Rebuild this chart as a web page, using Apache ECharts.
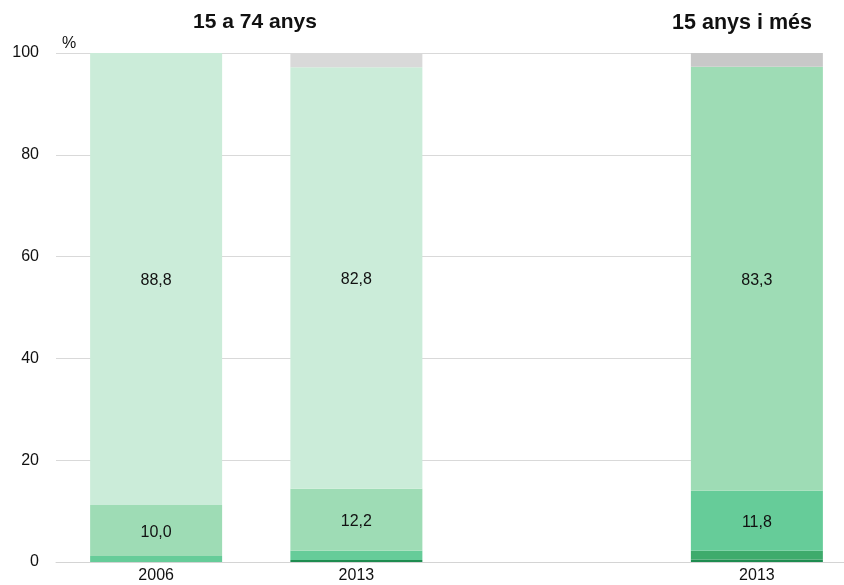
<!DOCTYPE html>
<html>
<head>
<meta charset="utf-8">
<script src="https://cdn.jsdelivr.net/npm/echarts@6/dist/echarts.min.js"></script>
<style>html,body{margin:0;padding:0;background:#fff}#c{width:844px;height:585px}</style>
</head>
<body>
<div id="c"></div>
<script>
var categories = ['2006', '2013', '', '2013'];
var groupTitles = ['15 a 74 anys', '15 anys i més'];
var yTicks = [0, 20, 40, 60, 80, 100];
// stacked segments, bottom to top
var seg1 = [0, 0.4, null, 0.5];
var seg2 = [1.2, 1.8, null, 1.7];
var seg3 = [10.0, 12.2, null, 11.8];
var seg4 = [88.8, 82.8, null, 83.3];
var seg5 = [0, 2.8, null, 2.7];
var labelled = [false, false, true, true, false];
// colours per bar (15-74 palette vs 15+ palette)
var colors1 = ['#1e8c50', '#1e8c50', null, '#1e8c50'];
var colors2 = ['#66cc99', '#66cc99', null, '#3eab6c'];
var colors3 = ['#9edcb5', '#9edcb5', null, '#66cc99'];
var colors4 = ['#cbecd9', '#cbecd9', null, '#9edcb5'];
var colors5 = ['#d9d9d9', '#d9d9d9', null, '#c8c8c8'];

var FONT = "'Liberation Sans', Arial, sans-serif";
var segs = [seg1, seg2, seg3, seg4, seg5];
var cols = [colors1, colors2, colors3, colors4, colors5];

function fmt(v) { return v.toFixed(1).replace('.', ','); }

var series = segs.map(function (s, si) {
  return {
    type: 'bar',
    stack: 'total',
    xAxisIndex: 0,
    yAxisIndex: 0,
    barWidth: 132,
    z: 5,
    data: s.map(function (v, i) {
      return { value: v, itemStyle: { color: cols[si][i] || '#fff' } };
    }),
    label: {
      show: labelled[si],
      position: 'inside',
      offset: [0, 2],
      color: '#111',
      fontFamily: FONT,
      fontSize: 16,
      formatter: function (p) { return p.value == null ? '' : fmt(p.value); }
    },
    emphasis: { disabled: true }
  };
});

var chart = echarts.init(document.getElementById('c'));
chart.setOption({
  animation: false,
  backgroundColor: '#fff',
  textStyle: { fontFamily: FONT },
  title: [
    { text: groupTitles[0], left: 250, top: 7, textAlign: 'center',
      textStyle: { fontSize: 21, fontWeight: 'bold', color: '#111', fontFamily: FONT } },
    { text: groupTitles[1], left: 737, top: 7, textAlign: 'center',
      textStyle: { fontSize: 21.5, fontWeight: 'bold', color: '#111', fontFamily: FONT } }
  ],
  grid: [
    { left: 56, width: 801, top: 53, bottom: 23, containLabel: false, outerBoundsMode: 'none' },
    { left: 56, right: 22, top: 53, bottom: 23, containLabel: false, outerBoundsMode: 'none' }
  ],
  xAxis: [
    {
      type: 'category', gridIndex: 0, data: categories,
      axisLine: { show: true, lineStyle: { color: '#d4d4d4', width: 1 } },
      axisTick: { show: false },
      axisLabel: { color: '#111', fontSize: 16, fontFamily: FONT, margin: 6 }
    },
    { type: 'category', gridIndex: 1, data: categories, show: false }
  ],
  yAxis: [
    { type: 'value', gridIndex: 0, min: 0, max: 100, interval: 20, show: false, splitLine: { show: false } },
    {
      type: 'value', gridIndex: 1, min: yTicks[0], max: yTicks[yTicks.length - 1], interval: 20,
      name: '%', nameLocation: 'end', nameGap: 1,
      nameTextStyle: { color: '#111', fontSize: 16, fontFamily: FONT, align: 'left', padding: [0, 0, 0, 6] },
      axisLine: { show: false }, axisTick: { show: false },
      axisLabel: { color: '#111', fontSize: 16, fontFamily: FONT, margin: 17 },
      splitLine: { show: true, lineStyle: { color: '#d9d9d9', width: 1 } }
    }
  ],
  series: series
});
</script>
</body>
</html>
